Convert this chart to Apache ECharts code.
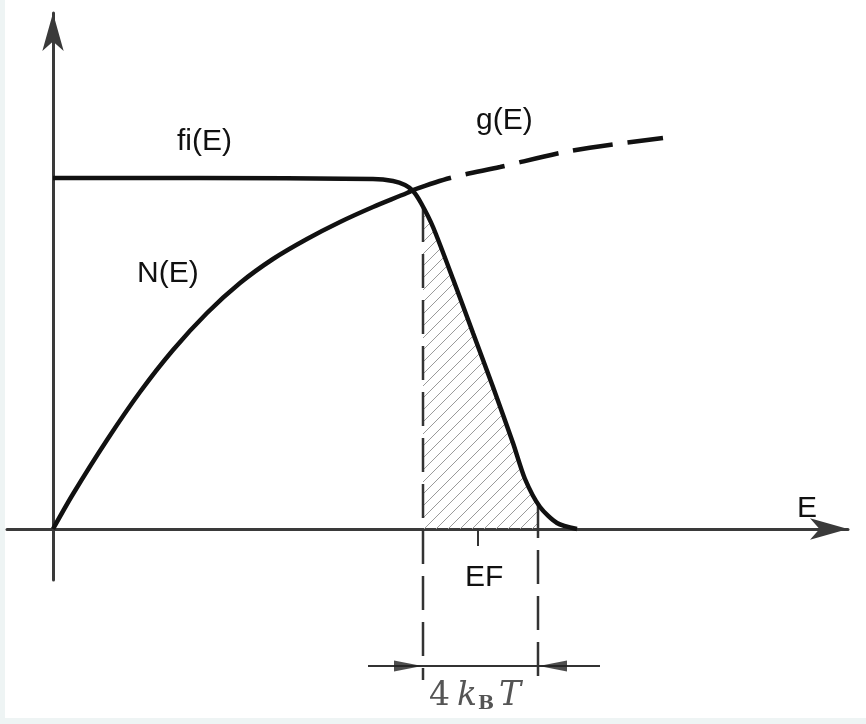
<!DOCTYPE html>
<html>
<head>
<meta charset="utf-8">
<script src="https://cdn.jsdelivr.net/npm/echarts@6/dist/echarts.min.js"></script>
<style>
  html, body { margin: 0; padding: 0; background: #eef4f4; }
  #chart { position: absolute; left: 5px; top: 0; width: 861px; height: 718px; background: #ffffff; }
</style>
</head>
<body>
<div id="chart"></div>
<script>
// Fermi function fi(E) (energy E, occupation)
const fiE = [0, 1.47, 3.20, 3.40, 3.52, 3.60, 3.68, 3.80, 4.00, 4.20, 4.40, 4.60, 4.72, 4.87, 5.04, 5.24];
const fiV = [3.51, 3.51, 3.50, 3.48, 3.44, 3.38, 3.26, 3.02, 2.50, 1.96, 1.42, 0.86, 0.50, 0.22, 0.06, 0.0];
// Occupied density N(E)
const nE = [0, 0.20, 0.54, 0.87, 1.20, 1.54, 1.87, 2.20, 2.54, 2.87, 3.20, 3.54, 3.60];
const nV = [0, 0.35, 0.89, 1.37, 1.79, 2.16, 2.46, 2.70, 2.90, 3.07, 3.22, 3.36, 3.39];
// Density of states g(E) (dashed continuation)
const gE = [3.60, 3.97, 4.47, 5.17, 6.10];
const gV = [3.39, 3.51, 3.62, 3.78, 3.91];
// Hatched region (4kBT window under fi)
const hE = [3.70, 3.80, 4.00, 4.20, 4.40, 4.60, 4.72, 4.85, 4.85];
const hV = [3.21, 3.02, 2.50, 1.96, 1.42, 0.86, 0.50, 0.25, 0.0];
// Window boundaries and Fermi level
const winLeft = 3.70, winRight = 4.85, fermiE = 4.25;
const dimY = -1.37, dimLow = -1.51;

const zip = (a, b) => a.map((v, i) => [v, b[i]]);

// hatch pattern
const tile = document.createElement('canvas');
const s = 12;
tile.width = s; tile.height = s;
const c = tile.getContext('2d');
c.strokeStyle = '#9a9a9a';
c.lineWidth = 1;
c.beginPath();
c.moveTo(0, s); c.lineTo(s, 0);
c.moveTo(-2, 2); c.lineTo(2, -2);
c.moveTo(s - 2, s + 2); c.lineTo(s + 2, s - 2);
c.stroke();

const chart = echarts.init(document.getElementById('chart'), null, { renderer: 'canvas' });
const black = '#111111';
const option = {
  animation: false,
  grid: { left: 2, right: 18, top: 13, bottom: 138, containLabel: false },
  xAxis: {
    type: 'value', min: -0.46, max: 7.95,
    axisLine: { onZero: true, symbol: ['none', 'arrow'], symbolSize: [16, 38], lineStyle: { color: '#3a3a3a', width: 3 } },
    axisTick: { show: false }, axisLabel: { show: false }, splitLine: { show: false }
  },
  yAxis: {
    type: 'value', min: -0.51, max: 5.16,
    axisLine: { onZero: true, symbol: ['none', 'arrow'], symbolSize: [16, 38], lineStyle: { color: '#3a3a3a', width: 3 } },
    axisTick: { show: false }, axisLabel: { show: false }, splitLine: { show: false }
  },
  series: [
    { name: 'hatch', type: 'line', data: zip(hE, hV), symbol: 'none', lineStyle: { width: 0 },
      areaStyle: { color: { image: tile, repeat: 'repeat' }, opacity: 1 }, z: 1 },
    { name: 'fi(E)', type: 'line', data: zip(fiE, fiV), symbol: 'none', smooth: 0.25,
      lineStyle: { color: black, width: 4.5 }, z: 5 },
    { name: 'N(E)', type: 'line', data: zip(nE, nV), symbol: 'none', smooth: 0.3,
      lineStyle: { color: black, width: 4.5 }, z: 5 },
    { name: 'g(E)', type: 'line', data: zip(gE, gV), symbol: 'none', smooth: 0.3,
      lineStyle: { color: black, width: 4.5, type: [40, 15] }, z: 5 },
    { name: 'winL', type: 'line', data: [[winLeft, hV[0]], [winLeft, dimLow]], symbol: 'none', clip: false,
      lineStyle: { color: '#333', width: 2.5, type: [34, 12] }, z: 4 },
    { name: 'winR', type: 'line', data: [[winRight, hV[hV.length - 2]], [winRight, dimLow]], symbol: 'none', clip: false,
      lineStyle: { color: '#333', width: 2.5, type: [34, 12] }, z: 4 },
    { name: 'EF tick', type: 'line', data: [[fermiE, 0], [fermiE, -0.17]], symbol: 'none', clip: false,
      lineStyle: { color: '#333', width: 2 }, z: 4 },
    { name: 'dim', type: 'line', data: [[3.15, dimY], [5.47, dimY]], symbol: 'none', clip: false,
      lineStyle: { color: '#333', width: 2 }, z: 4 },
    { name: 'arrowR', type: 'scatter', data: [[3.55, dimY]], symbol: 'triangle', symbolSize: [11, 28], symbolRotate: -90,
      clip: false, itemStyle: { color: '#222' }, z: 6 },
    { name: 'arrowL', type: 'scatter', data: [[5.00, dimY]], symbol: 'triangle', symbolSize: [11, 28], symbolRotate: 90,
      clip: false, itemStyle: { color: '#222' }, z: 6 }
  ],
  graphic: [
    { type: 'text', left: 172, top: 127, style: { text: 'fi(E)', font: '30px "Liberation Sans", Arial, sans-serif', fill: '#111' } },
    { type: 'text', left: 471, top: 106, style: { text: 'g(E)', font: '30px "Liberation Sans", Arial, sans-serif', fill: '#111' } },
    { type: 'text', left: 132, top: 259, style: { text: 'N(E)', font: '30px "Liberation Sans", Arial, sans-serif', fill: '#111' } },
    { type: 'text', left: 792, top: 494, style: { text: 'E', font: '30px "Liberation Sans", Arial, sans-serif', fill: '#111' } },
    { type: 'text', left: 460, top: 563, style: { text: 'EF', font: '30px "Liberation Sans", Arial, sans-serif', fill: '#111' } },
    { type: 'text', left: 424, top: 680, style: {
        text: '{a|4}{k|k}{b|B}{t|T}',
        rich: {
          a: { font: '33px "DejaVu Serif", serif', fill: '#555', padding: [0, 7, 0, 0] },
          k: { font: 'italic 33px "DejaVu Serif", serif', fill: '#555' },
          b: { font: 'bold 19px "DejaVu Serif", serif', fill: '#555', padding: [16, 5, 0, 1] },
          t: { font: 'italic 33px "DejaVu Serif", serif', fill: '#555' }
        } } }
  ]
};
chart.setOption(option);
</script>
</body>
</html>
